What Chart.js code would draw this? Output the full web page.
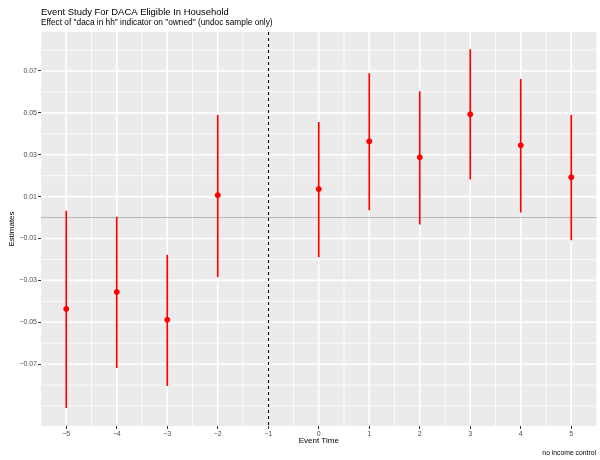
<!DOCTYPE html>
<html>
<head>
<meta charset="utf-8">
<script src="https://cdn.jsdelivr.net/npm/chart.js@4.4.0/dist/chart.umd.min.js"></script>
<style>
  html, body { margin: 0; padding: 0; background: #fff; }
  #wrap { width: 600px; height: 460px; }
</style>
</head>
<body>
<div id="wrap"><canvas id="myChart" width="600" height="460"></canvas></div>
<script>
// event study estimates
var eventTime = [-5, -4, -3, -2, 0, 1, 2, 3, 4, 5];
var estimate  = [-0.0436, -0.0355, -0.0488, 0.0107, 0.0136, 0.0364, 0.0288, 0.0493, 0.0345, 0.0193];
var ciLow     = [-0.0907, -0.0717, -0.0802, -0.0283, -0.0188, 0.0036, -0.0031, 0.0183, 0.0026, -0.0107];
var ciHigh    = [0.0031, 0.0002, -0.0179, 0.0488, 0.0455, 0.0688, 0.0602, 0.0802, 0.066, 0.0488];

var xTicks = [-5, -4, -3, -2, -1, 0, 1, 2, 3, 4, 5];
var xMinor = [-4.5, -3.5, -2.5, -1.5, -0.5, 0.5, 1.5, 2.5, 3.5, 4.5];
var yTicks = [-0.07, -0.05, -0.03, -0.01, 0.01, 0.03, 0.05, 0.07];
var yMinor = [-0.09, -0.08, -0.06, -0.04, -0.02, 0, 0.02, 0.04, 0.06, 0.08];

var refLineY = 0;      // horizontal reference
var eventLineX = -1;   // omitted period

var titleText = 'Event Study For DACA Eligible In Household';
var subtitleText = 'Effect of "daca in hh" indicator on "owned" (undoc sample only)';
var captionText = 'no income control';

var FONT = '"Liberation Sans", Arial, Helvetica, sans-serif';

var panelPlugin = {
  id: 'panel',
  beforeDraw: function (chart) {
    var a = chart.chartArea, ctx = chart.ctx;
    ctx.save();
    ctx.fillStyle = '#EBEBEB';
    ctx.fillRect(a.left, a.top, a.right - a.left, a.bottom - a.top);
    ctx.restore();
  },
  beforeDatasetsDraw: function (chart) {
    var a = chart.chartArea, ctx = chart.ctx;
    var x = chart.scales.x, y = chart.scales.y;
    ctx.save();
    ctx.strokeStyle = '#FFFFFF';
    // grid, minor first then major
    [[xMinor, yMinor, 0.8], [xTicks, yTicks, 1.6]].forEach(function (g) {
      ctx.lineWidth = g[2];
      g[0].forEach(function (v) {
        var px = x.getPixelForValue(v);
        ctx.beginPath(); ctx.moveTo(px, a.top); ctx.lineTo(px, a.bottom); ctx.stroke();
      });
      g[1].forEach(function (v) {
        var py = y.getPixelForValue(v);
        ctx.beginPath(); ctx.moveTo(a.left, py); ctx.lineTo(a.right, py); ctx.stroke();
      });
    });
    // zero line
    var py = y.getPixelForValue(refLineY);
    ctx.strokeStyle = '#B3B3B3';
    ctx.lineWidth = 1;
    ctx.beginPath();
    ctx.moveTo(a.left, py);
    ctx.lineTo(a.right, py);
    ctx.stroke();
    // dashed event line
    var px = Math.round(x.getPixelForValue(eventLineX)) + 0.5;
    ctx.strokeStyle = '#000';
    ctx.lineWidth = 1.1;
    ctx.setLineDash([3, 3]);
    ctx.beginPath();
    ctx.moveTo(px, a.top);
    ctx.lineTo(px, a.bottom);
    ctx.stroke();
    ctx.restore();
  },
  afterDraw: function (chart) {
    var a = chart.chartArea, ctx = chart.ctx;
    ctx.save();
    ctx.fillStyle = '#000';
    ctx.textBaseline = 'alphabetic';
    ctx.textAlign = 'left';
    ctx.font = '9.45px ' + FONT;
    ctx.fillText(titleText, a.left, 15);
    ctx.font = '8.3px ' + FONT;
    ctx.fillText(subtitleText, a.left, 25);
    ctx.textAlign = 'right';
    ctx.font = '6.8px ' + FONT;
    ctx.fillText(captionText, 596, 455);
    ctx.restore();
  }
};

var ctx = document.getElementById('myChart').getContext('2d');
var myChart = new Chart(ctx, {
  data: {
    datasets: [{
      type: 'bar',
      label: 'CI',
      data: eventTime.map(function (t, i) { return { x: t, y: [ciLow[i], ciHigh[i]] }; }),
      backgroundColor: '#FF0000',
      borderWidth: 0,
      barThickness: 1,
      order: 2
    }, {
      type: 'scatter',
      label: 'Estimate',
      data: eventTime.map(function (t, i) { return { x: t, y: estimate[i] }; }),
      backgroundColor: '#FF0000',
      borderColor: '#FF0000',
      pointRadius: 2.5,
      pointHoverRadius: 2.5,
      order: 1
    }]
  },
  options: {
    responsive: false,
    animation: false,
    events: [],
    layout: { padding: { top: 32, right: 3, bottom: 0, left: 0 } },
    plugins: {
      legend: { display: false },
      tooltip: { enabled: false },
      title: { display: false }
    },
    scales: {
      x: {
        type: 'linear',
        min: -5.5,
        max: 5.5,
        offset: false,
        afterBuildTicks: function (scale) {
          scale.ticks = xTicks.map(function (v) { return { value: v }; });
        },
        afterFit: function (scale) { scale.height = 34; },
        ticks: {
          autoSkip: false,
          maxRotation: 0,
          padding: 1,
          color: '#4D4D4D',
          font: { family: FONT, size: 7 },
          callback: function (v) {
            return v < 0 ? '\u2212' + Math.abs(v) : String(v);
          }
        },
        grid: {
          offset: false,
          drawOnChartArea: false,
          tickColor: '#333333',
          tickWidth: 1,
          tickLength: 3,
          drawTicks: true
        },
        border: { display: false },
        title: {
          display: true,
          text: 'Event Time',
          color: '#000',
          font: { family: FONT, size: 8 },
          padding: { top: 0, bottom: 14 }
        }
      },
      y: {
        type: 'linear',
        min: -0.0995,
        max: 0.0886,
        afterBuildTicks: function (scale) {
          scale.ticks = yTicks.map(function (v) { return { value: v }; });
        },
        afterFit: function (scale) { scale.width = 41; },
        ticks: {
          autoSkip: false,
          padding: 1,
          color: '#4D4D4D',
          font: { family: FONT, size: 7 },
          callback: function (v) {
            var s = Math.abs(v).toFixed(2);
            return v < 0 ? '\u2212' + s : s;
          }
        },
        grid: {
          offset: false,
          drawOnChartArea: false,
          tickColor: '#333333',
          tickWidth: 1,
          tickLength: 3,
          drawTicks: true
        },
        border: { display: false },
        title: {
          display: true,
          text: 'Estimates',
          color: '#000',
          font: { family: FONT, size: 8 },
          padding: { top: 7, bottom: 0 }
        }
      }
    }
  },
  plugins: [panelPlugin]
});
</script>
</body>
</html>
